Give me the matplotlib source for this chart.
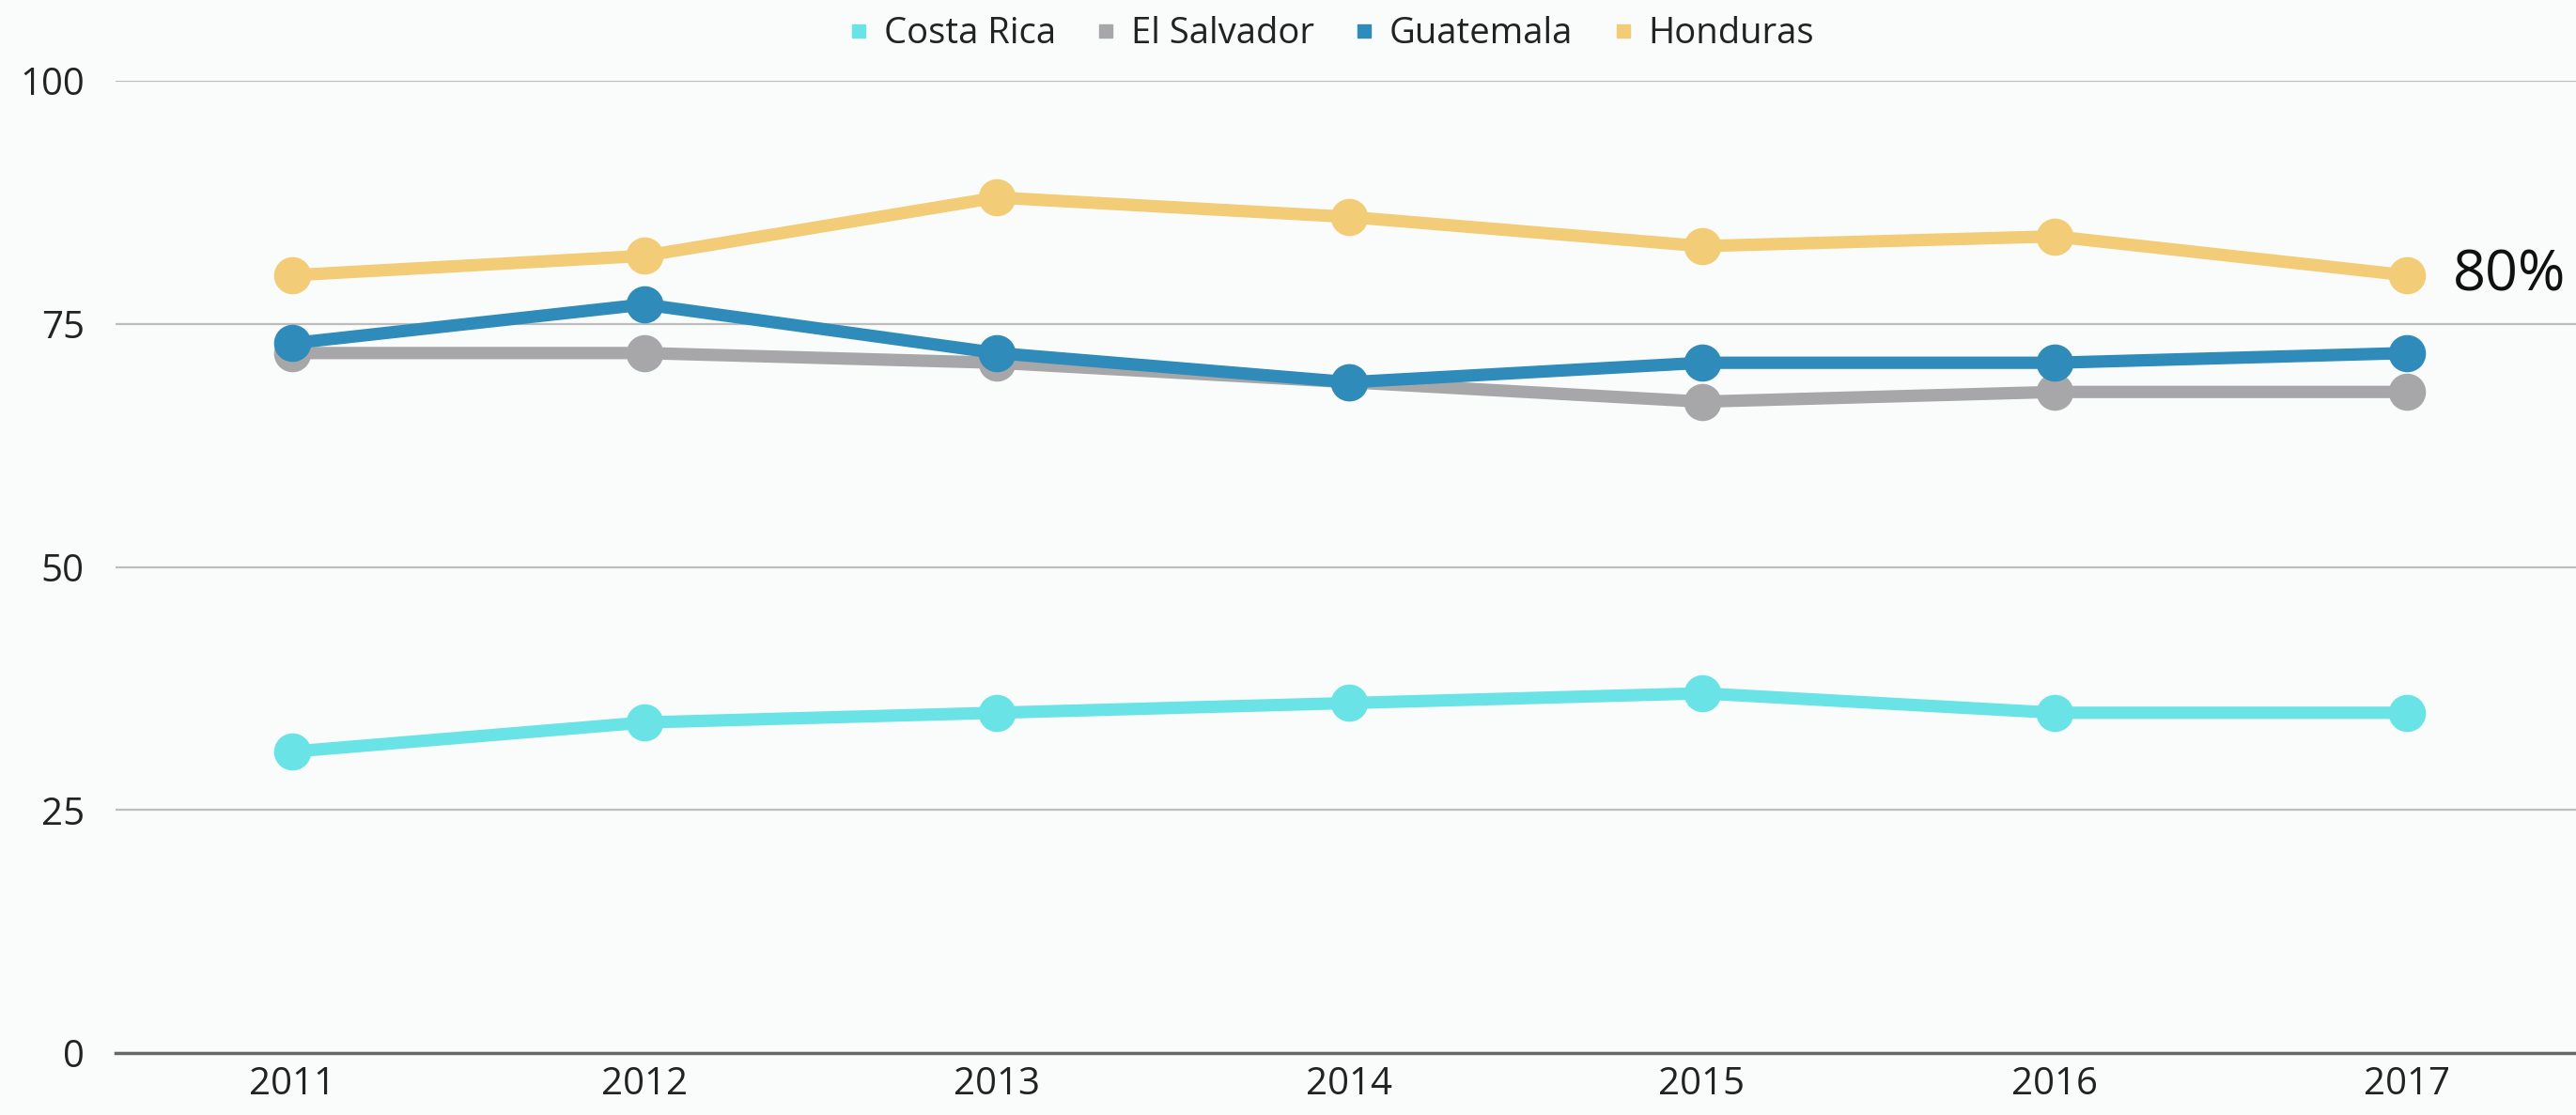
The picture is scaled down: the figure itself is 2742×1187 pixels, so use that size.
import matplotlib
matplotlib.use("Agg")
import matplotlib.pyplot as plt
from matplotlib.lines import Line2D

plt.rcParams['font.family'] = ['Open Sans', 'DejaVu Sans']

years = [2011, 2012, 2013, 2014, 2015, 2016, 2017]
series_names = ["Costa Rica", "El Salvador", "Guatemala", "Honduras"]
costa_rica = [31, 34, 35, 36, 37, 35, 35]
el_salvador = [72, 72, 71, 69, 67, 68, 68]
guatemala = [73, 77, 72, 69, 71, 71, 72]
honduras = [80, 82, 88, 86, 83, 84, 80]
colors = ["#6ae3e6", "#a7a7a9", "#2e8bba", "#f2cc76"]
y_ticks = [0, 25, 50, 75, 100]

bg = "#fafcfc"
fig = plt.figure(figsize=(27.42, 11.87), dpi=100, facecolor=bg)
ax = fig.add_axes([0.0449, 0.0556, 0.9551, 0.8719], facecolor=bg)

for name, vals, c in zip(series_names, [costa_rica, el_salvador, guatemala, honduras], colors):
    ax.plot(years, vals, color=c, lw=9.5, marker='o', markersize=27.5,
            solid_capstyle='round', zorder=3, label=name)

ax.annotate(f"{honduras[-1]}%", xy=(years[-1], honduras[-1]), xytext=(35, 0),
            textcoords='offset points', va='center', ha='left',
            fontsize=44, color='#111111')

ax.set_xlim(2010.5, 2017.48)
ax.set_ylim(0, 100)
ax.set_xticks(years)
ax.set_xticklabels([str(y) for y in years])
ax.set_yticks(y_ticks)
ax.set_yticklabels([str(v) for v in y_ticks])
ax.tick_params(axis='both', length=0, labelsize=29, colors='#222222')
ax.tick_params(axis='y', pad=24)
ax.tick_params(axis='x', pad=10)

ax.grid(axis='y', color='#bdbdbd', lw=1.6, zorder=0)
ax.set_axisbelow(True)
for s in ['top', 'right', 'left']:
    ax.spines[s].set_visible(False)
ax.spines['bottom'].set_color('#666666')
ax.spines['bottom'].set_linewidth(2.5)

handles = [Line2D([], [], ls='none', marker='s', markersize=10, color=c) for c in colors]
leg = ax.legend(handles, series_names, loc='center', bbox_to_anchor=(0.494, 1.048),
                ncol=4, frameon=False, fontsize=27.5, handlelength=0.6,
                handletextpad=0.4, columnspacing=1.1)
for t in leg.get_texts():
    t.set_color('#222222')

fig.savefig("out.png", dpi=100, facecolor=bg)
